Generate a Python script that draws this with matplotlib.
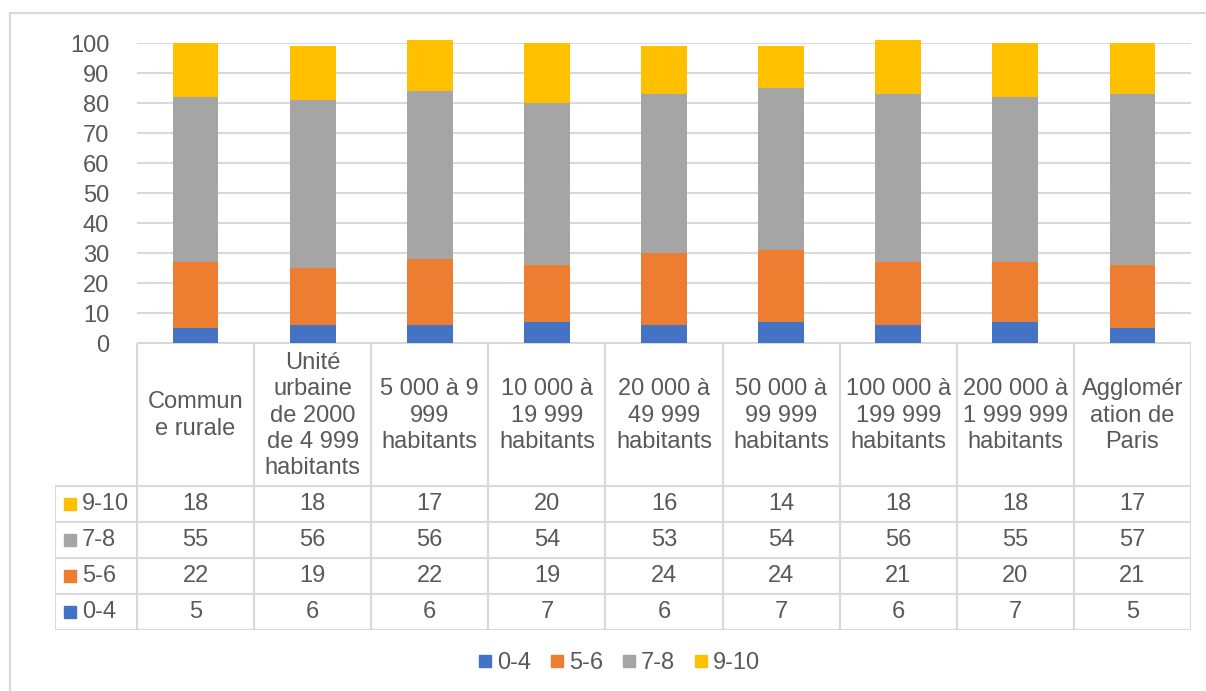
import matplotlib
matplotlib.use("Agg")
import matplotlib.pyplot as plt
from matplotlib.patches import Rectangle
from matplotlib.lines import Line2D

plt.rcParams['font.family'] = ['Liberation Sans', 'DejaVu Sans']

categories = [
    "Commun\ne rurale",
    "Unité\nurbaine\nde 2000\nde 4 999\nhabitants",
    "5 000 à 9\n999\nhabitants",
    "10 000 à\n19 999\nhabitants",
    "20 000 à\n49 999\nhabitants",
    "50 000 à\n99 999\nhabitants",
    "100 000 à\n199 999\nhabitants",
    "200 000 à\n1 999 999\nhabitants",
    "Agglomér\nation de\nParis",
]
series_names = ["0-4", "5-6", "7-8", "9-10"]
v_0_4 = [5, 6, 6, 7, 6, 7, 6, 7, 5]
v_5_6 = [22, 19, 22, 19, 24, 24, 21, 20, 21]
v_7_8 = [55, 56, 56, 54, 53, 54, 56, 55, 57]
v_9_10 = [18, 18, 17, 20, 16, 14, 18, 18, 17]
series_values = [v_0_4, v_5_6, v_7_8, v_9_10]
colors = ["#4472C4", "#ED7D31", "#A5A5A5", "#FFC000"]
yticks = [0, 10, 20, 30, 40, 50, 60, 70, 80, 90, 100]

W, H = 1206, 691
TXT = "#595959"
GRID = "#D9D9D9"
FS = 17

fig = plt.figure(figsize=(W / 100, H / 100), dpi=100)

# outer chart frame (bottom and right edges fall outside the image)
fig.patches.append(Rectangle((10 / W, -0.05), 1.2, 1.05 - 13 / H,
                             transform=fig.transFigure, fill=False,
                             edgecolor=GRID, lw=1.5))

# ---- bar axes ----
x0, x1 = 137, 1191
ytop, ybot = 43, 343
ax = fig.add_axes([x0 / W, 1 - ybot / H, (x1 - x0) / W, (ybot - ytop) / H])
n = len(categories)
xs = list(range(n))
bottom = [0] * n
for name, vals, c in zip(series_names, series_values, colors):
    ax.bar(xs, vals, width=0.39, bottom=bottom, color=c, label=name,
           clip_on=False, zorder=3)
    bottom = [b + v for b, v in zip(bottom, vals)]
ax.set_xlim(-0.5, n - 0.5)
ax.set_ylim(0, 100)
ax.set_yticks(yticks)
ax.set_yticklabels([str(t) for t in yticks], fontsize=FS, color=TXT)
ax.tick_params(axis='y', length=0, pad=20)
ax.set_xticks([])
for s in ax.spines.values():
    s.set_visible(False)
ax.yaxis.grid(True, color=GRID, lw=1.5, zorder=0)
ax.set_axisbelow(True)
ax.patch.set_alpha(0)

# ---- data table axes ----
tl, tr = 55, 1191
tt, tb = 343, 630
colw = (x1 - x0) / n
tax = fig.add_axes([tl / W, 1 - tb / H, (tr - tl) / W, (tb - tt) / H])
tax.set_xlim(-0.5 - (x0 - tl) / colw, n - 0.5)
tax.set_ylim(tb - tt, 0)
tax.axis('off')
hdr = 143
rowh = (tb - tt - hdr) / 4
lkw = dict(color=GRID, lw=1.5, solid_capstyle='butt')
xl = -0.5 - (x0 - tl) / colw
# horizontal lines
tax.plot([-0.5, n - 0.5], [0, 0], **lkw)
for r in range(5):
    y = hdr + r * rowh
    tax.plot([xl, n - 0.5], [y, y], **lkw)
# vertical lines
tax.plot([xl, xl], [hdr, tb - tt], **lkw)
for i in range(n + 1):
    tax.plot([i - 0.5, i - 0.5], [0, tb - tt], **lkw)
# header text
for i, cat in enumerate(categories):
    tax.text(i, hdr / 2 + 1, cat, ha='center', va='center', fontsize=FS,
             color=TXT, linespacing=1.24)
# rows (top row = last series)
for r, (name, vals, c) in enumerate(zip(series_names[::-1], series_values[::-1], colors[::-1])):
    yc = hdr + (r + 0.5) * rowh
    for i, v in enumerate(vals):
        tax.text(i, yc, str(v), ha='center', va='center', fontsize=FS, color=TXT)
    tax.plot([xl + 15 / colw], [yc], marker='s', ms=8.5, color=c, ls='none')
    tax.text(xl + 27 / colw, yc, name, ha='left', va='center', fontsize=FS, color=TXT)

# ---- legend ----
handles = [Line2D([], [], marker='s', ms=8.5, ls='none', color=c) for c in colors]
fig.legend(handles, series_names, loc='center', bbox_to_anchor=(619 / W, 1 - 663 / H),
           ncol=4, frameon=False, fontsize=FS, labelcolor=TXT, handlelength=0.6,
           handletextpad=0.2, columnspacing=0.8)

fig.savefig("out.png", dpi=100)
